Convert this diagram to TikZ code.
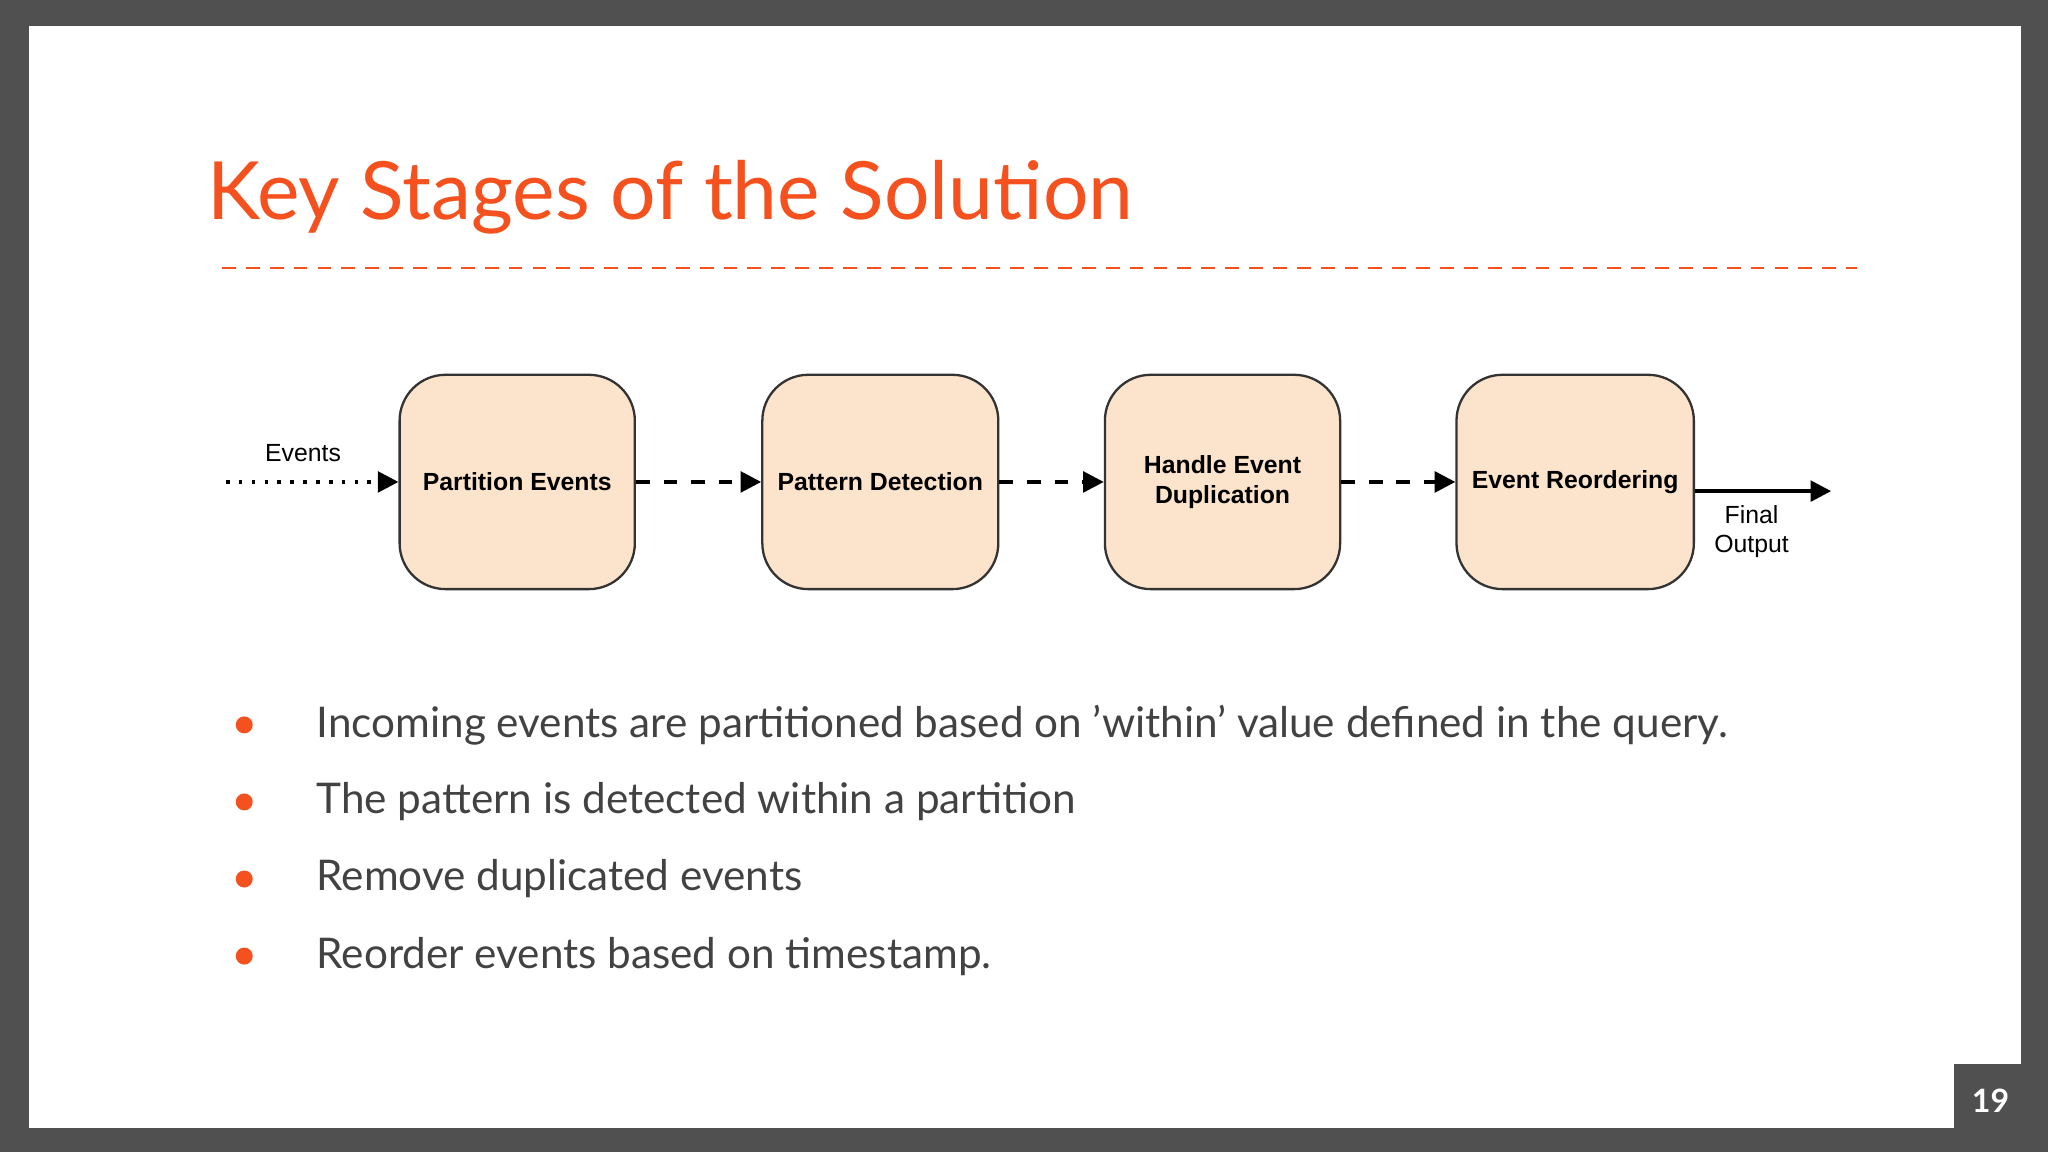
\documentclass[tikz,border=0pt]{standalone}
\usepackage{fontspec}
\setmainfont{Lato}
\newfontfamily\arial{Liberation Sans}
\usetikzlibrary{arrows.meta}
\definecolor{frame}{HTML}{505050}
\definecolor{accent}{HTML}{F4511E}
\definecolor{boxfill}{HTML}{FCE4CC}
\definecolor{txt}{HTML}{424242}
\tikzset{
  stage/.style={draw=black!80, fill=boxfill, rounded corners=10pt, line width=0.5pt,
    minimum width=1.8cm, minimum height=1.64cm, align=center,
    font=\arial\bfseries\fontsize{5.4}{6.4}\selectfont},
  flow/.style={line width=0.8pt, -{Triangle[length=4.5pt,width=4.5pt]}},
  small/.style={font=\arial\fontsize{5.4}{6.4}\selectfont, align=center},
  bullettext/.style={anchor=west, text=txt, font=\fontsize{9.2}{11}\selectfont},
  dot/.style={circle, fill=accent, inner sep=0pt, minimum size=0.13cm}
}
\begin{document}
\begin{tikzpicture}[x=0.01cm,y=-0.01cm]
\fill[frame] (0,0) rectangle (1568,882);
\fill[white] (22,20) rectangle (1547,864);
\fill[frame] (1496,815) rectangle (1547,864);
\node[text=white, font=\bfseries\fontsize{7}{8}\selectfont] (pg) at (1524,843) {19};
\node[anchor=base west, text=accent, font=\fontsize{17.5}{20}\selectfont, inner sep=0] (title) at (158,168) {Key Stages of the Solution};
\draw[accent, line width=0.5pt, dash pattern=on 3pt off 2.2pt] (170,205) -- (1422,205);

\node[stage] (a) at (396,369) {Partition Events};
\node[stage] (b) at (674,369) {Pattern Detection};
\node[stage] (c) at (936,369) {Handle Event\\Duplication};
\node[stage] (d) at (1206,369) {Event Reordering};
\coordinate (in) at (173,369);
\coordinate (out) at (1402,376);
\draw[flow, dotted] (in) -- (a.west);
\node[small] (ev) at (232,347) {Events};
\draw[flow, dashed] (a) -- (b);
\draw[flow, dashed] (b) -- (c);
\draw[flow, dashed] (c) -- (d);
\draw[flow] (d.east |- out) -- (out);
\node[small] (fo) at (1341,407) {Final\\Output};

\foreach \y/\t [count=\i] in {555/{Incoming events are partitioned based on 'within' value defined in the query.},
  614/{The pattern is detected within a partition},
  673/{Remove duplicated events},
  732/{Reorder events based on timestamp.}}{
  \node[dot] (b\i) at (187,\y) {};
  \node[bullettext] (t\i) at (230,\y) {\t};
}
\end{tikzpicture}
\end{document}
